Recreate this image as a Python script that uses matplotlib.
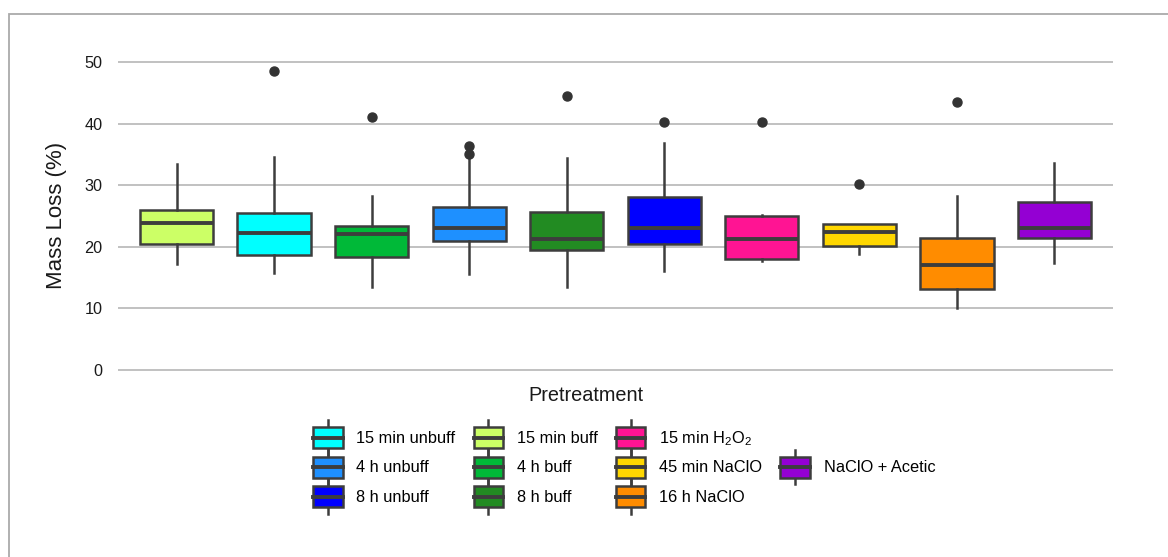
import matplotlib
matplotlib.use("Agg")
import matplotlib.pyplot as plt
from matplotlib.patches import Rectangle
from matplotlib.lines import Line2D
from matplotlib.legend_handler import HandlerBase

plt.rcParams['font.family'] = ['Liberation Sans', 'DejaVu Sans']
plt.rcParams['mathtext.fontset'] = 'custom'
plt.rcParams['mathtext.rm'] = 'Liberation Sans'
plt.rcParams['mathtext.default'] = 'rm'

# boxes in the order they sit on the x axis
categories = ['15 min buff', '15 min unbuff', '4 h buff', '4 h unbuff', '8 h buff',
              '8 h unbuff', '15 min H$_2$O$_2$', '45 min NaClO', '16 h NaClO', 'NaClO + Acetic']
colors = ['#CCFF66', '#00FFFF', '#00B938', '#1E90FF', '#228B22',
          '#0000FF', '#FF1493', '#FFD700', '#FF8C00', '#9400D3']
whislo = [17.2, 15.7, 13.5, 15.6, 13.4, 16.0, 17.7, 18.8, 10.0, 17.3]
q1 = [20.45, 18.7, 18.3, 21.0, 19.5, 20.5, 18.0, 20.1, 13.2, 21.4]
med = [23.9, 22.3, 22.1, 23.0, 21.3, 23.1, 21.3, 22.35, 17.0, 23.05]
q3 = [26.0, 25.5, 23.4, 26.5, 25.6, 28.1, 25.0, 23.75, 21.5, 27.2]
whishi = [33.4, 34.6, 28.3, 34.6, 34.4, 36.9, 25.2, 23.75, 28.3, 33.65]
fliers = [[], [48.6], [41.1], [35.1, 36.4], [44.5], [40.3], [40.2], [30.2], [43.5], []]

# legend order (column by column), None = empty slot
legend_order = ['15 min unbuff', '4 h unbuff', '8 h unbuff',
                '15 min buff', '4 h buff', '8 h buff',
                '15 min H$_2$O$_2$', '45 min NaClO', '16 h NaClO',
                None, 'NaClO + Acetic', None]

EDGE = '#3d3d3d'


class BoxHandle:
    def __init__(self, color):
        self.color = color


class HandlerBox(HandlerBase):
    def create_artists(self, legend, orig_handle, xdescent, ydescent,
                       width, height, fontsize, trans):
        x0, y0 = -xdescent, -ydescent
        ext = 0.4 * fontsize
        cx = x0 + width / 2
        box = Rectangle((x0, y0), width, height, facecolor=orig_handle.color,
                        edgecolor=EDGE, lw=1.8, transform=trans)
        mid = Line2D([x0, x0 + width], [y0 + height / 2] * 2, color=EDGE, lw=2.8, transform=trans)
        top = Line2D([cx, cx], [y0 + height, y0 + height + ext], color=EDGE, lw=1.8, transform=trans)
        bot = Line2D([cx, cx], [y0, y0 - ext], color=EDGE, lw=1.8, transform=trans)
        return [top, bot, box, mid]


fig = plt.figure(figsize=(11.68, 5.57), dpi=100)
ax = fig.add_axes([118 / 1168, 184 / 557, 995 / 1168, 323.3 / 557])

stats = []
for i, name in enumerate(categories):
    stats.append({'label': name, 'whislo': whislo[i], 'q1': q1[i], 'med': med[i],
                  'q3': q3[i], 'whishi': whishi[i], 'fliers': fliers[i]})

bp = ax.bxp(stats, positions=range(len(categories)), widths=0.75, patch_artist=True,
            showcaps=False,
            boxprops=dict(edgecolor=EDGE, linewidth=1.8),
            medianprops=dict(color=EDGE, linewidth=2.8),
            whiskerprops=dict(color=EDGE, linewidth=1.8),
            flierprops=dict(marker='o', markerfacecolor='#333333', markeredgecolor='#333333',
                            markersize=6.5))
for patch, c in zip(bp['boxes'], colors):
    patch.set_facecolor(c)

ax.set_xlim(-0.6, 9.6)
ax.set_ylim(-0.5, 52)
ax.set_yticks([0, 10, 20, 30, 40, 50])
ax.set_xticks([])
ax.tick_params(axis='y', length=0, pad=11, labelsize=11.7, labelcolor='#1a1a1a')
ax.grid(True, axis='y', color='#b0b0b0', linewidth=1.1)
ax.set_axisbelow(True)
for s in ax.spines.values():
    s.set_visible(False)

ax.set_ylabel('Mass Loss (%)', fontsize=16, color='#1a1a1a')
ax.yaxis.set_label_coords((67 - 118) / 995, 0.487)
ax.set_xlabel('Pretreatment', fontsize=14.3, color='#1a1a1a')
ax.xaxis.set_label_coords(0.470, -0.040)

handles = []
labels = []
for name in legend_order:
    if name is None:
        handles.append(Line2D([], [], linestyle='none'))
        labels.append('')
    else:
        handles.append(BoxHandle(colors[categories.index(name)]))
        labels.append(name)

fig.legend(handles, labels, ncol=4, loc='upper left',
           bbox_to_anchor=(313 / 1168, 1 - 427 / 557), bbox_transform=fig.transFigure,
           frameon=False, fontsize=11.8, handlelength=1.8, handleheight=1.6,
           handletextpad=0.85, labelspacing=0.52, columnspacing=1.1,
           borderpad=0, borderaxespad=0,
           handler_map={BoxHandle: HandlerBox()})

# grey frame on the left and top of the picture
fig.add_artist(Rectangle((9 / 1168, -0.05), 1.2, 1 - 14 / 557 + 0.05, fill=False,
                         edgecolor='#aaaaaa', lw=1.3, transform=fig.transFigure))

fig.savefig('out.png', dpi=100)
